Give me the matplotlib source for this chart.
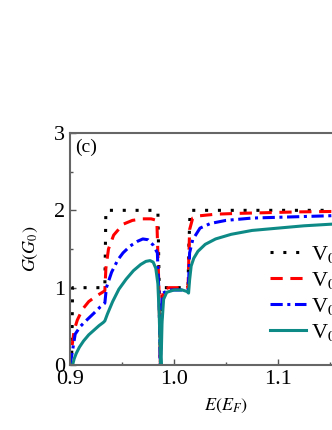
import matplotlib
matplotlib.use("Agg")
import matplotlib.pyplot as plt

plt.rcParams['font.family'] = ['Liberation Serif', 'DejaVu Serif']
plt.rcParams['mathtext.fontset'] = 'stix'

# Black dotted
E_k = [0.900, 0.9015, 0.9025, 0.910, 0.920, 0.930, 0.9335, 0.9345, 0.945, 0.960, 0.975, 0.9845,
       0.9858, 0.9868, 0.9878, 0.9890, 0.995, 1.005, 1.0135, 1.0142, 1.0155, 1.03, 1.06, 1.10, 1.15, 1.20]
G_k = [0.0, 0.0, 1.0, 1.0, 1.0, 1.0, 1.0, 2.0, 2.0, 2.0, 2.0, 2.0,
       1.0, 0.0, 0.6, 1.0, 1.0, 1.0, 1.0, 1.5, 2.0, 2.0, 2.0, 2.0, 2.0, 2.0]

# Red dashed
E_r = [0.900, 0.902, 0.904, 0.907, 0.912, 0.918, 0.925, 0.930, 0.9335, 0.9345, 0.937, 0.942,
       0.951, 0.960, 0.970, 0.978, 0.9835, 0.9855, 0.9868, 0.9880, 0.9895, 0.995, 1.005, 1.0135,
       1.0150, 1.018, 1.025, 1.040, 1.060, 1.090, 1.120, 1.150, 1.200]
G_r = [0.0, 0.25, 0.45, 0.58, 0.72, 0.82, 0.89, 0.93, 0.96, 1.25, 1.50, 1.68,
       1.82, 1.87, 1.89, 1.89, 1.87, 1.0, 0.0, 0.6, 0.98, 1.0, 1.0, 1.0,
       1.75, 1.90, 1.93, 1.95, 1.96, 1.97, 1.98, 1.985, 1.99]

# Blue dash-dot
E_b = [0.900, 0.902, 0.905, 0.910, 0.916, 0.923, 0.929, 0.9335, 0.9350, 0.940, 0.946, 0.951,
       0.958, 0.965, 0.970, 0.975, 0.980, 0.9840, 0.9856, 0.9868, 0.9880, 0.9895, 0.995, 1.005,
       1.0138, 1.0150, 1.018, 1.025, 1.035, 1.050, 1.075, 1.100, 1.150, 1.200]
G_b = [0.0, 0.15, 0.40, 0.50, 0.58, 0.67, 0.75, 0.80, 1.00, 1.20, 1.36, 1.45,
       1.54, 1.60, 1.63, 1.62, 1.55, 1.45, 0.9, 0.0, 0.55, 0.93, 0.97, 0.97,
       0.97, 1.45, 1.62, 1.77, 1.83, 1.87, 1.90, 1.91, 1.93, 1.95]

# Teal solid
E_t = [0.900, 0.9025, 0.904, 0.906, 0.909, 0.913, 0.918, 0.923, 0.928, 0.932, 0.9335, 0.936,
       0.941, 0.947, 0.954, 0.961, 0.968, 0.973, 0.977, 0.980, 0.9825, 0.9845, 0.9858, 0.9868,
       0.9875, 0.9885, 0.9900, 0.9930, 1.000, 1.008, 1.0125, 1.0140, 1.0150, 1.0165, 1.019,
       1.023, 1.030, 1.040, 1.055, 1.075, 1.100, 1.125, 1.150, 1.200]
G_t = [0.0, 0.0, 0.08, 0.15, 0.23, 0.31, 0.39, 0.45, 0.51, 0.55, 0.57, 0.66,
       0.82, 0.98, 1.11, 1.22, 1.30, 1.34, 1.35, 1.33, 1.25, 1.05, 0.65, 0.15,
       0.0, 0.55, 0.85, 0.94, 0.97, 0.97, 0.95, 0.93, 1.10, 1.28, 1.38,
       1.47, 1.56, 1.63, 1.69, 1.74, 1.77, 1.80, 1.82, 1.85]

labels = ['V$_0$=0', 'V$_0$=0.01', 'V$_0$=0.02', 'V$_0$=0.05']
x_ticks = [0.9, 1.0, 1.1]
y_ticks = [0, 1, 2, 3]

W, H = 332, 430
fig = plt.figure(figsize=(W / 100, H / 100), dpi=100)
left, right, top, bottom = 70, 70 + 312, 133, 365
ax = fig.add_axes([left / W, (H - bottom) / H, (right - left) / W, (bottom - top) / H])

ax.plot(E_k, G_k, color='black', lw=2.2, ls=(0, (1, 3.2)), label=labels[0])
ax.plot(E_r, G_r, color='red', lw=2.2, ls=(0, (4, 2.5)), label=labels[1])
ax.plot(E_b, G_b, color='blue', lw=2.2, ls=(0, (4, 1.5, 1, 1.5)), label=labels[2])
ax.plot(E_t, G_t, color='#0e8a86', lw=2.2, ls='-', label=labels[3])

ax.set_xlim(0.9, 1.2)
ax.set_ylim(0, 3)
ax.set_xticks(x_ticks)
ax.set_xticklabels(['0.9', '1.0', '1.1'])
ax.set_yticks(y_ticks)
ax.set_xticks([0.95, 1.05, 1.15], minor=True)
ax.set_yticks([0.5, 1.5, 2.5], minor=True)
ax.tick_params(which='both', direction='in', labelsize=16, colors='#555555', labelcolor='black')
ax.tick_params(which='major', length=4, width=1)
ax.tick_params(which='minor', length=2.5, width=1)
for s in ax.spines.values():
    s.set_color('#666666')
    s.set_linewidth(1.5)

ax.set_xlabel('$E(E_F)$', fontsize=13, labelpad=6)
ax.set_ylabel('$G(G_0)$', fontsize=13, labelpad=10)
ax.text(0.015, 0.975, '(c)', transform=ax.transAxes, fontsize=14, va='top', ha='left')

leg = ax.legend(loc='upper left', bbox_to_anchor=(250 / W, (H - 224) / H),
                bbox_transform=fig.transFigure, frameon=False, fontsize=16,
                handlelength=1.6, handletextpad=0.25, labelspacing=0.22)

fig.savefig('out.png', dpi=100)
